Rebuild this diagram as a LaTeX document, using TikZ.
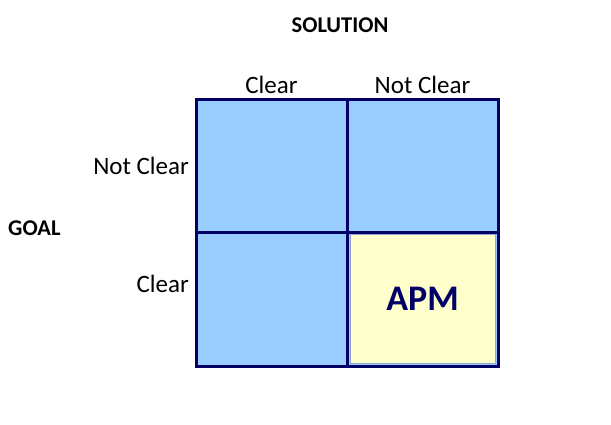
\documentclass[tikz,border=0pt]{standalone}
\usepackage{fontspec}
\setmainfont{Carlito}
\definecolor{cellblue}{HTML}{99CCFF}
\definecolor{gridnavy}{HTML}{000066}
\definecolor{apmyellow}{HTML}{FFFFCC}
\definecolor{apmedge}{HTML}{8EA6D2}
\begin{document}
\begin{tikzpicture}[x=1pt,y=-1pt,
  cell/.style={draw=gridnavy,line width=3pt,fill=cellblue,minimum width=151pt,minimum height=133.5pt,inner sep=0pt,outer sep=0pt,anchor=north west},
  inner/.style={draw=apmedge,line width=0.8pt,fill=apmyellow,minimum width=145pt,minimum height=129pt,inner sep=0pt,anchor=center},
  lbl/.style={font=\fontsize{25}{29}\selectfont,inner sep=0pt,text=black},
  head/.style={font=\fontsize{22.5}{26}\selectfont\bfseries,inner sep=0pt,text=black}]
\useasboundingbox (0,0) rectangle (611,424);
\node[cell] (tl) at (196,99) {};
\node[cell] (tr) at (347,99) {};
\node[cell] (bl) at (196,232.5) {};
\node[cell] (br) at (347,232.5) {};
\node[inner] (apm) at (br.center) {};
\node[font=\fontsize{36}{40}\selectfont\bfseries,text=gridnavy] (apmt) at (apm.center) {APM};
\draw[draw=gridnavy,line width=3pt] (tl.north west) rectangle (br.south east);
\node[head] (sol) at (340,25) {SOLUTION};
\node[head,anchor=west] (goal) at (8,228) {GOAL};
\node[lbl] (cc) at ([yshift=14pt]tl.north) {Clear};
\node[lbl] (cn) at ([yshift=14pt]tr.north) {Not Clear};
\node[lbl,anchor=east] (rn) at (189,166) {Not Clear};
\node[lbl,anchor=east] (rc) at (189,284) {Clear};
\end{tikzpicture}
\end{document}
